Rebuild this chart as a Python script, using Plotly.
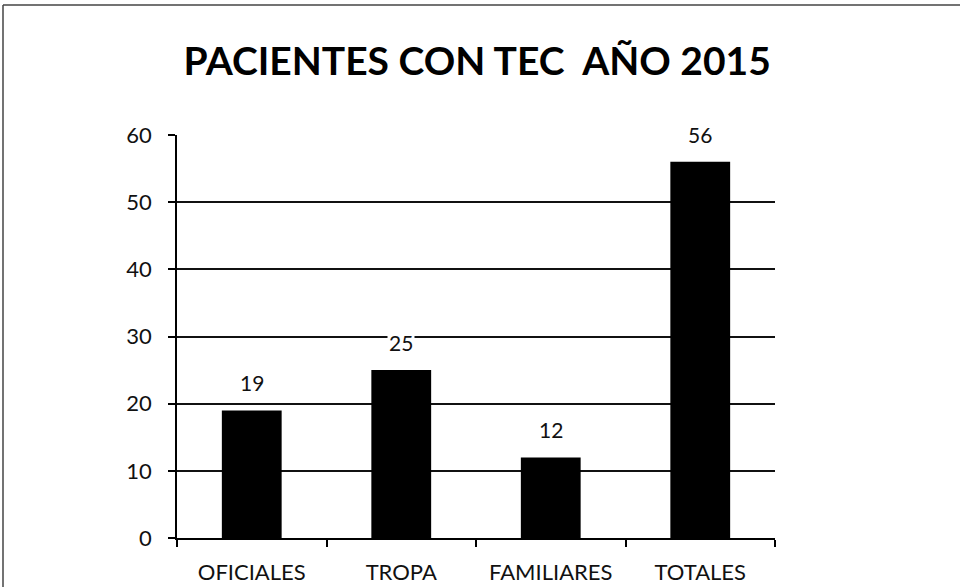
import plotly.graph_objects as go

categories = ["OFICIALES", "TROPA", "FAMILIARES", "TOTALES"]
values = [19, 25, 12, 56]
y_ticks = [0, 10, 20, 30, 40, 50, 60]
title_text = "PACIENTES CON TEC  AÑO 2015"

FONT = "Lato"

fig = go.Figure()
fig.add_trace(go.Bar(
    x=categories, y=values,
    marker=dict(color="black", line=dict(color="black", width=0)),
    width=0.4,
    hoverinfo="skip",
))

for c, v in zip(categories, values):
    fig.add_annotation(
        x=c, y=v, text=str(v), showarrow=False,
        yanchor="bottom", yshift=13,
        font=dict(family=FONT, size=21, color="#111"),
        bgcolor="white", borderpad=1,
    )

L, R, T, B = 177, 185, 135, 49
W, H = 960, 587
pw, ph = W - L - R, H - T - B

def px_x(p):
    return (p - L) / pw

def px_y(p):
    return (H - B - p) / ph

fig.add_shape(type="line", xref="paper", yref="paper",
              x0=px_x(3), x1=px_x(962), y0=px_y(5), y1=px_y(5),
              line=dict(color="#444", width=1.5))
fig.add_shape(type="line", xref="paper", yref="paper",
              x0=px_x(3), x1=px_x(3), y0=px_y(5), y1=px_y(590),
              line=dict(color="#444", width=1.5))

fig.update_layout(
    width=W, height=H,
    margin=dict(l=L, r=R, t=T, b=B, autoexpand=False),
    paper_bgcolor="white", plot_bgcolor="white",
    showlegend=False,
    title=dict(text=title_text, x=0.497, xanchor="center", y=0.895, yanchor="middle",
               font=dict(family=FONT, size=39, color="black", weight="bold")),
    xaxis=dict(
        type="category", tickson="boundaries", ticks="outside", ticklen=7,
        tickcolor="black", tickwidth=1.5,
        showline=True, linecolor="black", linewidth=1.8,
        showgrid=False, automargin=False,
        tickfont=dict(family=FONT, size=22, color="#111"),
        ticklabelstandoff=14,
        range=[-0.5, 3.5],
    ),
    yaxis=dict(
        range=[0, 60], tickvals=y_ticks, ticks="outside", ticklen=7,
        tickcolor="black", tickwidth=1.5,
        showline=True, linecolor="black", linewidth=1.8,
        showgrid=True, gridcolor="#111", gridwidth=1.8,
        zeroline=False, automargin=False,
        tickfont=dict(family=FONT, size=22, color="#111"),
        ticklabelstandoff=12,
    ),
)

fig.write_html("out.html", config={"displayModeBar": False},
               post_script="document.body.style.margin='0';document.body.style.padding='0';")
